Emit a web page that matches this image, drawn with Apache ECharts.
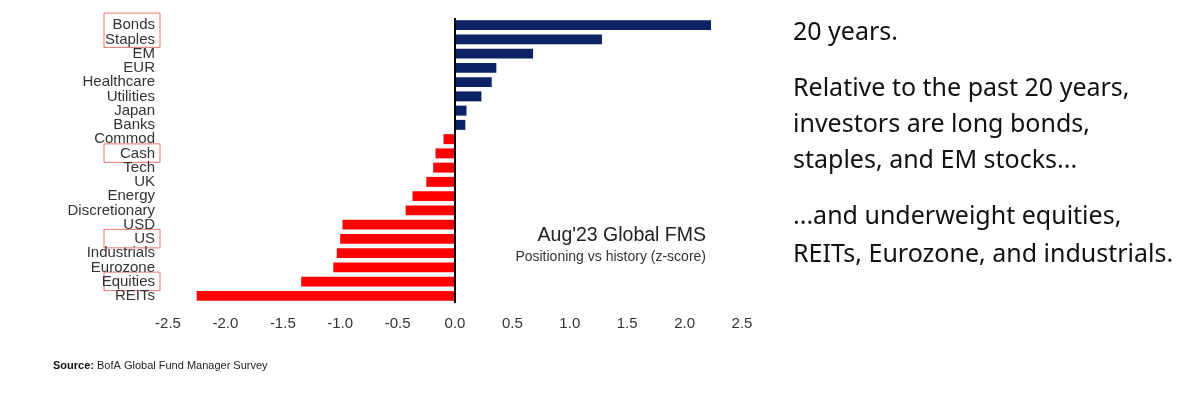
<!DOCTYPE html>
<html><head><meta charset="utf-8">
<script src="https://cdn.jsdelivr.net/npm/echarts@6/dist/echarts.min.js"></script>
<style>html,body{margin:0;padding:0;background:#fff}#c{width:1200px;height:394px}</style>
</head><body><div id="c"></div>
<script>
const categories = ['Bonds','Staples','EM','EUR','Healthcare','Utilities','Japan','Banks','Commod','Cash','Tech','UK','Energy','Discretionary','USD','US','Industrials','Eurozone','Equities','REITs'];
const values = [2.23, 1.28, 0.68, 0.36, 0.32, 0.23, 0.10, 0.09, -0.10, -0.17, -0.19, -0.25, -0.37, -0.43, -0.98, -1.00, -1.03, -1.06, -1.34, -2.25];
const xTicks = {min: -2.5, max: 2.5, interval: 0.5};
const highlightGroups = [['Bonds','Staples'], ['Cash'], ['US'], ['Equities']];
const noteTitle = "Aug'23 Global FMS";
const noteSub = 'Positioning vs history (z-score)';
const sourceText = 'BofA Global Fund Manager Survey';
const rightLines = ['20 years.', 'Relative to the past 20 years,', 'investors are long bonds,', 'staples, and EM stocks...', '...and underweight equities,', 'REITs, Eurozone, and industrials.'];

const NAVY = '#0b2265', RED = '#ff0000';
const chart = echarts.init(document.getElementById('c'), null, {renderer: 'canvas'});

const lineY = [33, 89, 125, 161, 217, 255];
const rightTexts = rightLines.map((line, i) => ({
  type: 'text', x: 793, y: lineY[i],
  style: {text: line, font: '25px "Noto Sans"', fill: '#111', verticalAlign: 'middle', align: 'left'}
}));

chart.setOption({
  animation: false,
  grid: {left: 168, top: 18, width: 574, height: 285, containLabel: false},
  xAxis: {
    type: 'value', min: xTicks.min, max: xTicks.max, interval: xTicks.interval,
    axisLine: {show: false}, axisTick: {show: false}, splitLine: {show: false},
    axisLabel: {margin: 13, color: '#333', fontFamily: '"Liberation Sans"', fontSize: 15,
      formatter: v => v.toFixed(1)}
  },
  yAxis: {
    type: 'category', data: categories, inverse: true,
    axisLine: {show: false}, axisTick: {show: false},
    axisLabel: {margin: 13, color: '#333', fontFamily: '"Liberation Sans"', fontSize: 15, interval: 0}
  },
  series: [{
    type: 'bar', data: values, barCategoryGap: '30%',
    itemStyle: {color: p => p.value >= 0 ? NAVY : RED},
    markLine: {silent: true, symbol: 'none', label: {show: false},
      lineStyle: {color: '#000', width: 2, type: 'solid'}, data: [{xAxis: 0}]}
  }]
});

const boxes = highlightGroups.map(g => {
  const y0 = chart.convertToPixel({yAxisIndex: 0}, g[0]);
  const y1 = chart.convertToPixel({yAxisIndex: 0}, g[g.length - 1]);
  const top = y0 - (g.length > 1 ? 12 : 9.5);
  const bot = y1 + (g.length > 1 ? 8 : 9);
  return {type: 'rect', shape: {x: 104, y: top, width: 56, height: bot - top},
    style: {fill: 'none', stroke: '#e8766c', lineWidth: 1}, silent: true};
});

chart.setOption({
  graphic: [
    ...boxes,
    {type: 'text', x: 706, y: 236, style: {text: noteTitle, font: '19.5px "Liberation Sans"', fill: '#222', align: 'right', verticalAlign: 'middle'}},
    {type: 'text', x: 706, y: 257, style: {text: noteSub, font: '14px "Liberation Sans"', fill: '#333', align: 'right', verticalAlign: 'middle'}},
    {type: 'text', left: 53, top: 360, style: {
      text: '{b|Source:} ' + sourceText,
      rich: {b: {fontWeight: 'bold', fontSize: 11, fontFamily: '"Liberation Sans"', fill: '#111'}},
      font: '11px "Liberation Sans"', fill: '#222'}},
    ...rightTexts
  ]
});
</script></body></html>
